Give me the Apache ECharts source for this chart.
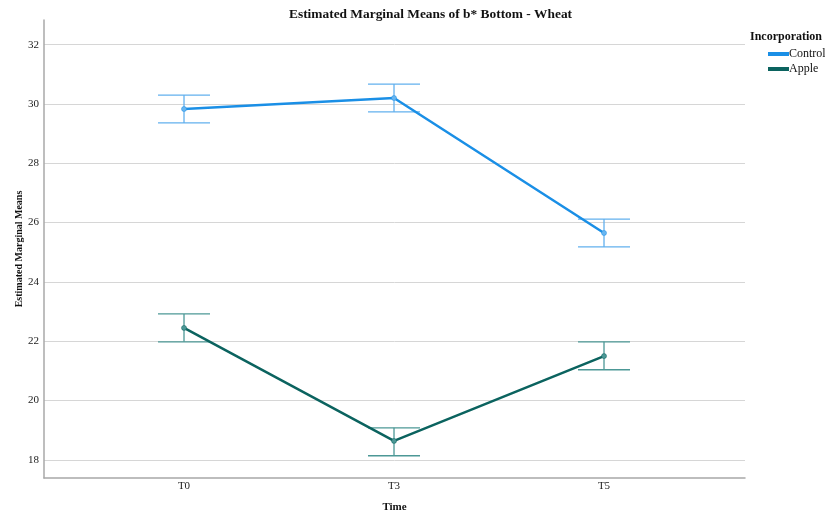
<!DOCTYPE html>
<html><head><meta charset="utf-8">
<script src="https://cdn.jsdelivr.net/npm/echarts@6/dist/echarts.min.js"></script>
<style>html,body{margin:0;padding:0;background:#fff}#c{width:825px;height:516px}</style>
</head><body><div id="c"></div>
<script>
const categories = ['T0', 'T3', 'T5'];
const yTicks = [18, 20, 22, 24, 26, 28, 30, 32];
const seriesNames = ['Control', 'Apple'];
const controlMean = [29.83, 30.20, 25.65];
const controlLower = [29.36, 29.73, 25.18];
const controlUpper = [30.30, 30.67, 26.12];
const appleMean = [22.45, 18.64, 21.50];
const appleLower = [21.98, 18.14, 21.04];
const appleUpper = [22.92, 19.08, 21.98];

const FONT = '"Liberation Serif", "Times New Roman", serif';
const ctrlLine = '#1a8fe6', ctrlErr = '#62b0ee', ctrlPt = '#6ab6f0';
const appLine = '#0b635f', appErr = '#4c9896', appPt = '#4c9896';

function errRender(color) {
  return function (params, api) {
    const x = api.value(0), lo = api.value(1), hi = api.value(2);
    const pLo = api.coord([x, lo]), pHi = api.coord([x, hi]);
    const half = 26;
    const style = { stroke: color, lineWidth: 1.3, fill: null };
    return {
      type: 'group', children: [
        { type: 'line', shape: { x1: pHi[0], y1: pHi[1], x2: pLo[0], y2: pLo[1] }, style: style },
        { type: 'line', shape: { x1: pHi[0] - half, y1: pHi[1], x2: pHi[0] + half, y2: pHi[1] }, style: style },
        { type: 'line', shape: { x1: pLo[0] - half, y1: pLo[1], x2: pLo[0] + half, y2: pLo[1] }, style: style }
      ]
    };
  };
}

const chart = echarts.init(document.getElementById('c'), null, { renderer: 'canvas' });
chart.setOption({
  animation: false,
  backgroundColor: '#fff',
  textStyle: { fontFamily: FONT },
  title: [
    { text: 'Estimated Marginal Means of b* Bottom - Wheat', left: 289, top: 8, padding: 0,
      textStyle: { fontFamily: FONT, fontSize: 13.4, fontWeight: 'bold', color: '#111' } },
    { text: 'Incorporation', left: 750, top: 31, padding: 0,
      textStyle: { fontFamily: FONT, fontSize: 12, fontWeight: 'bold', color: '#111' } }
  ],
  legend: {
    orient: 'vertical', left: 768, top: 48, padding: 0, itemWidth: 19, itemHeight: 2, itemGap: 3,
    icon: 'rect',
    textStyle: { fontFamily: FONT, fontSize: 12, color: '#111', padding: [0, 0, 0, -4] },
    data: [{ name: seriesNames[0], itemStyle: { color: ctrlLine } }, { name: seriesNames[1], itemStyle: { color: appLine } }]
  },
  grid: { left: 44, right: 80, top: 20, bottom: 38, containLabel: false, outerBoundsMode: 'none' },
  xAxis: {
    type: 'value', min: -0.6667, max: 2.6714,
    name: 'Time', nameLocation: 'middle', nameGap: 24, nameMoveOverlap: false,
    nameTextStyle: { fontFamily: FONT, fontSize: 11, fontWeight: 'bold', color: '#111' },
    axisLine: { show: true, onZero: false, lineStyle: { color: '#a8a8a8', width: 1.5 } },
    axisTick: { show: false, customValues: [0, 1, 2] },
    axisLabel: { customValues: [0, 1, 2], formatter: v => categories[Math.round(v)], margin: 3,
      fontFamily: FONT, fontSize: 11, color: '#222' },
    splitLine: { show: false }
  },
  yAxis: {
    type: 'value', min: 17.39, max: 32.83,
    name: 'Estimated Marginal Means', nameLocation: 'middle', nameGap: 20, nameRotate: 90, nameMoveOverlap: false,
    nameTextStyle: { fontFamily: FONT, fontSize: 10, fontWeight: 'bold', color: '#111' },
    axisLine: { show: true, onZero: false, lineStyle: { color: '#a8a8a8', width: 1.5 } },
    axisTick: { show: false, customValues: yTicks },
    axisLabel: { customValues: yTicks, margin: 5, fontFamily: FONT, fontSize: 11, color: '#222' },
    splitLine: { show: true, lineStyle: { color: '#d6d6d6', width: 1 } }
  },
  series: [
    { name: seriesNames[0] + ' CI', type: 'custom', z: 2, renderItem: errRender(ctrlErr),
      encode: { x: 0, y: [1, 2] }, data: categories.map((c, i) => [i, controlLower[i], controlUpper[i]]) },
    { name: seriesNames[1] + ' CI', type: 'custom', z: 2, renderItem: errRender(appErr),
      encode: { x: 0, y: [1, 2] }, data: categories.map((c, i) => [i, appleLower[i], appleUpper[i]]) },
    { name: seriesNames[0], type: 'line', z: 3, data: categories.map((c, i) => [i, controlMean[i]]),
      symbol: 'circle', symbolSize: 5, lineStyle: { color: ctrlLine, width: 2.5 },
      itemStyle: { color: ctrlPt, borderColor: ctrlLine, borderWidth: 0.5 } },
    { name: seriesNames[1], type: 'line', z: 3, data: categories.map((c, i) => [i, appleMean[i]]),
      symbol: 'circle', symbolSize: 5, lineStyle: { color: appLine, width: 2.5 },
      itemStyle: { color: appPt, borderColor: appLine, borderWidth: 0.5 } }
  ]
});
</script></body></html>
